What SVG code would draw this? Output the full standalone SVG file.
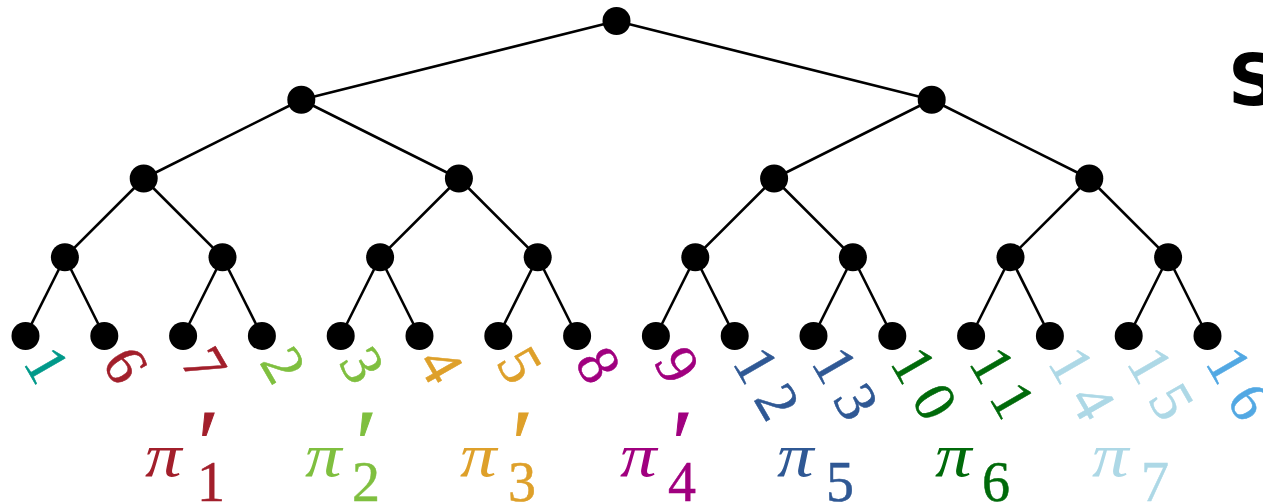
<svg xmlns="http://www.w3.org/2000/svg" width="1263" height="502" viewBox="0 0 1263 502">
<style>
.edge{stroke:#000;stroke-width:2.6;fill:none}
.node{fill:#000}
.lbl{font-family:"Liberation Serif",serif;font-size:59px;letter-spacing:13px;stroke-width:0.5}
.pi{font-family:"Liberation Serif",serif;font-style:italic;font-size:62px;stroke:none}
.pr{font-family:"Liberation Serif",serif;font-style:italic;font-size:96px;stroke-width:1}
.sub{font-family:"Liberation Serif",serif;font-size:56px;stroke-width:0.5}
.S{font-family:"DejaVu Sans",sans-serif;font-weight:bold;font-size:72px}
</style>
<rect width="1263" height="502" fill="#fff"/>
<g id="connectors">
<line class="edge" x1="616.5" y1="21" x2="301.3" y2="99.75"/>
<line class="edge" x1="616.5" y1="21" x2="931.7" y2="99.75"/>
<line class="edge" x1="301.3" y1="99.75" x2="143.7" y2="178.5"/>
<line class="edge" x1="301.3" y1="99.75" x2="458.9" y2="178.5"/>
<line class="edge" x1="931.7" y1="99.75" x2="774.1" y2="178.5"/>
<line class="edge" x1="931.7" y1="99.75" x2="1089.3" y2="178.5"/>
<line class="edge" x1="143.7" y1="178.5" x2="64.9" y2="257.25"/>
<line class="edge" x1="143.7" y1="178.5" x2="222.5" y2="257.25"/>
<line class="edge" x1="458.9" y1="178.5" x2="380.1" y2="257.25"/>
<line class="edge" x1="458.9" y1="178.5" x2="537.7" y2="257.25"/>
<line class="edge" x1="774.1" y1="178.5" x2="695.3" y2="257.25"/>
<line class="edge" x1="774.1" y1="178.5" x2="852.9" y2="257.25"/>
<line class="edge" x1="1089.3" y1="178.5" x2="1010.5" y2="257.25"/>
<line class="edge" x1="1089.3" y1="178.5" x2="1168.1" y2="257.25"/>
<line class="edge" x1="64.9" y1="257.25" x2="25.5" y2="336"/>
<line class="edge" x1="64.9" y1="257.25" x2="104.3" y2="336"/>
<line class="edge" x1="222.5" y1="257.25" x2="183.1" y2="336"/>
<line class="edge" x1="222.5" y1="257.25" x2="261.9" y2="336"/>
<line class="edge" x1="380.1" y1="257.25" x2="340.7" y2="336"/>
<line class="edge" x1="380.1" y1="257.25" x2="419.5" y2="336"/>
<line class="edge" x1="537.7" y1="257.25" x2="498.3" y2="336"/>
<line class="edge" x1="537.7" y1="257.25" x2="577.1" y2="336"/>
<line class="edge" x1="695.3" y1="257.25" x2="655.9" y2="336"/>
<line class="edge" x1="695.3" y1="257.25" x2="734.7" y2="336"/>
<line class="edge" x1="852.9" y1="257.25" x2="813.5" y2="336"/>
<line class="edge" x1="852.9" y1="257.25" x2="892.3" y2="336"/>
<line class="edge" x1="1010.5" y1="257.25" x2="971.1" y2="336"/>
<line class="edge" x1="1010.5" y1="257.25" x2="1049.9" y2="336"/>
<line class="edge" x1="1168.1" y1="257.25" x2="1128.7" y2="336"/>
<line class="edge" x1="1168.1" y1="257.25" x2="1207.5" y2="336"/>
</g>
<g id="root"><circle class="node" cx="616.5" cy="21" r="14"/></g>
<g id="n-l"><circle class="node" cx="301.3" cy="99.75" r="14"/></g>
<g id="n-r"><circle class="node" cx="931.7" cy="99.75" r="14"/></g>
<g id="n-ll"><circle class="node" cx="143.7" cy="178.5" r="14"/></g>
<g id="n-lr"><circle class="node" cx="458.9" cy="178.5" r="14"/></g>
<g id="n-rl"><circle class="node" cx="774.1" cy="178.5" r="14"/></g>
<g id="n-rr"><circle class="node" cx="1089.3" cy="178.5" r="14"/></g>
<g id="n3-1"><circle class="node" cx="64.9" cy="257.25" r="14"/></g>
<g id="n3-2"><circle class="node" cx="222.5" cy="257.25" r="14"/></g>
<g id="n3-3"><circle class="node" cx="380.1" cy="257.25" r="14"/></g>
<g id="n3-4"><circle class="node" cx="537.7" cy="257.25" r="14"/></g>
<g id="n3-5"><circle class="node" cx="695.3" cy="257.25" r="14"/></g>
<g id="n3-6"><circle class="node" cx="852.9" cy="257.25" r="14"/></g>
<g id="n3-7"><circle class="node" cx="1010.5" cy="257.25" r="14"/></g>
<g id="n3-8"><circle class="node" cx="1168.1" cy="257.25" r="14"/></g>
<g id="leaf-1"><circle class="node" cx="25.5" cy="336" r="14"/><text class="lbl" fill="#00998A" stroke="#00998A" transform="translate(22.5,362) rotate(60)">1</text></g>
<g id="leaf-6"><circle class="node" cx="104.3" cy="336" r="14"/><text class="lbl" fill="#A21F2B" stroke="#A21F2B" transform="translate(101.3,362) rotate(60)">6</text></g>
<g id="leaf-7"><circle class="node" cx="183.1" cy="336" r="14"/><text class="lbl" fill="#A21F2B" stroke="#A21F2B" transform="translate(180.1,362) rotate(60)">7</text></g>
<g id="leaf-2"><circle class="node" cx="261.9" cy="336" r="14"/><text class="lbl" fill="#7FBF3F" stroke="#7FBF3F" transform="translate(258.9,362) rotate(60)">2</text></g>
<g id="leaf-3"><circle class="node" cx="340.7" cy="336" r="14"/><text class="lbl" fill="#7FBF3F" stroke="#7FBF3F" transform="translate(337.7,362) rotate(60)">3</text></g>
<g id="leaf-4"><circle class="node" cx="419.5" cy="336" r="14"/><text class="lbl" fill="#DEA02A" stroke="#DEA02A" transform="translate(416.5,362) rotate(60)">4</text></g>
<g id="leaf-5"><circle class="node" cx="498.3" cy="336" r="14"/><text class="lbl" fill="#DEA02A" stroke="#DEA02A" transform="translate(495.3,362) rotate(60)">5</text></g>
<g id="leaf-8"><circle class="node" cx="577.1" cy="336" r="14"/><text class="lbl" fill="#A0007F" stroke="#A0007F" transform="translate(574.1,362) rotate(60)">8</text></g>
<g id="leaf-9"><circle class="node" cx="655.9" cy="336" r="14"/><text class="lbl" fill="#A0007F" stroke="#A0007F" transform="translate(652.9,362) rotate(60)">9</text></g>
<g id="leaf-12"><circle class="node" cx="734.7" cy="336" r="14"/><text class="lbl" fill="#2F5894" stroke="#2F5894" transform="translate(731.7,362) rotate(60)">12</text></g>
<g id="leaf-13"><circle class="node" cx="813.5" cy="336" r="14"/><text class="lbl" fill="#2F5894" stroke="#2F5894" transform="translate(810.5,362) rotate(60)">13</text></g>
<g id="leaf-10"><circle class="node" cx="892.3" cy="336" r="14"/><text class="lbl" fill="#006A0A" stroke="#006A0A" transform="translate(889.3,362) rotate(60)">10</text></g>
<g id="leaf-11"><circle class="node" cx="971.1" cy="336" r="14"/><text class="lbl" fill="#006A0A" stroke="#006A0A" transform="translate(968.1,362) rotate(60)">11</text></g>
<g id="leaf-14"><circle class="node" cx="1049.9" cy="336" r="14"/><text class="lbl" fill="#ADD8E6" stroke="#ADD8E6" transform="translate(1046.9,362) rotate(60)">14</text></g>
<g id="leaf-15"><circle class="node" cx="1128.7" cy="336" r="14"/><text class="lbl" fill="#ADD8E6" stroke="#ADD8E6" transform="translate(1125.7,362) rotate(60)">15</text></g>
<g id="leaf-16"><circle class="node" cx="1207.5" cy="336" r="14"/><text class="lbl" fill="#52A8E3" stroke="#52A8E3" transform="translate(1204.5,362) rotate(60)">16</text></g>
<g id="pi1" fill="#A21F2B" stroke="#A21F2B"><text class="pi" transform="translate(145,476) scale(1.18,1)">π</text><text class="pr" x="192" y="476">′</text><text class="sub" x="197" y="501">1</text></g>
<g id="pi2" fill="#7FBF3F" stroke="#7FBF3F"><text class="pi" transform="translate(305,476) scale(1.18,1)">π</text><text class="pr" x="350" y="476">′</text><text class="sub" x="352" y="501">2</text></g>
<g id="pi3" fill="#DEA02A" stroke="#DEA02A"><text class="pi" transform="translate(460,476) scale(1.18,1)">π</text><text class="pr" x="506" y="476">′</text><text class="sub" x="508" y="501">3</text></g>
<g id="pi4" fill="#A0007F" stroke="#A0007F"><text class="pi" transform="translate(620,476) scale(1.18,1)">π</text><text class="pr" x="666" y="476">′</text><text class="sub" x="668" y="501">4</text></g>
<g id="pi5" fill="#2F5894" stroke="#2F5894"><text class="pi" transform="translate(777,476) scale(1.18,1)">π</text><text class="sub" x="826" y="501">5</text></g>
<g id="pi6" fill="#006A0A" stroke="#006A0A"><text class="pi" transform="translate(935,476) scale(1.18,1)">π</text><text class="sub" x="982" y="501">6</text></g>
<g id="pi7" fill="#ADD8E6" stroke="#ADD8E6"><text class="pi" transform="translate(1092,476) scale(1.18,1)">π</text><text class="sub" x="1141" y="501">7</text></g>
<g id="title"><text class="S" x="1228" y="105">S</text></g>
</svg>
